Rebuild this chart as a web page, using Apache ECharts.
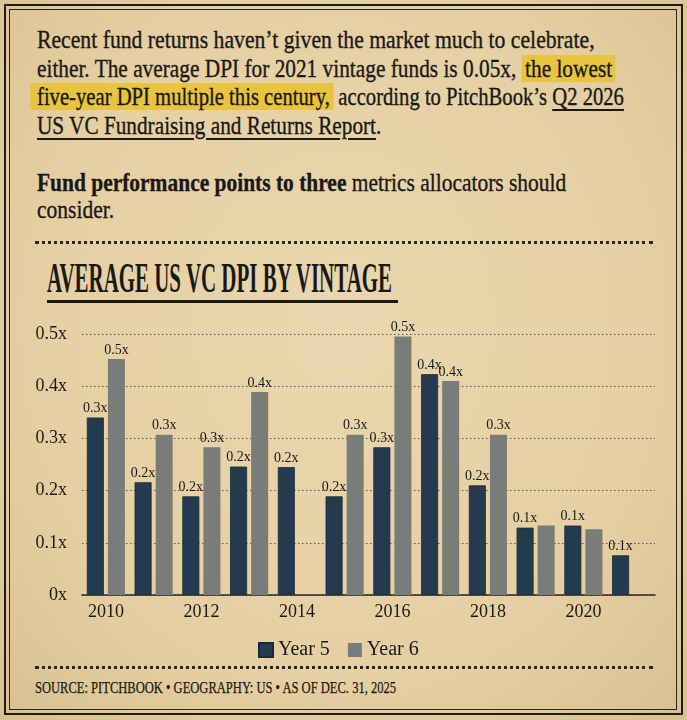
<!DOCTYPE html>
<html>
<head>
<meta charset="utf-8">
<title>Average US VC DPI by vintage</title>
<script src="https://cdn.jsdelivr.net/npm/echarts@6.0.0/dist/echarts.min.js"></script>
<style>
  html, body { margin: 0; padding: 0; }
  body { width: 687px; height: 720px; overflow: hidden; }
  #page {
    position: relative; width: 687px; height: 720px; overflow: hidden;
    background: radial-gradient(ellipse at 50% 45%, #ead7af 0%, #e5cfa2 65%, #d9c08f 100%);
    font-family: "Liberation Serif", "DejaVu Serif", serif;
    color: #1b1916;
  }
  .frame-outer { position: absolute; left: 4px; top: 4px; right: 4px; bottom: 5px; border: 2.5px solid #1e1c19; }
  .frame-inner { position: absolute; left: 9px; top: 9px; right: 10px; bottom: 10px; border: 1.5px solid #2a2723; }
  .sq { position: absolute; white-space: nowrap; transform-origin: 0 0; }
  .ln { left: 37px; height: 28.5px; font-size: 25px; line-height: 28.5px; -webkit-text-stroke: 0.35px #1b1916; }
  .hl { background: #e9c440; padding: 0 4px; }
  .hl.first { margin-left: -8px; padding-left: 8px; }
  .ul { text-decoration: underline; text-decoration-thickness: 1.5px; text-underline-offset: 4px; }
  .dots { position: absolute; left: 35px; width: 618px; height: 0; border-top: 3px dotted #2b2824; }
  #title { left: 47px; top: 256px; font-size: 43px; line-height: 43px; font-weight: bold; transform: scaleX(0.487); }
  #title-rule { position: absolute; left: 47px; top: 300px; width: 351px; height: 2.5px; background: #1b1916; }
  #source { left: 35px; top: 677px; font-size: 17px; line-height: 22px; transform: scaleX(0.738); -webkit-text-stroke: 0.25px #1b1916; }
  #main { position: absolute; left: 0; top: 0; width: 687px; height: 720px; }
</style>
</head>
<body>
<div id="page">
  <div class="frame-outer"></div>
  <div class="frame-inner"></div>

  <div class="sq ln" style="top: 26px; transform: scaleX(0.868);">Recent fund returns haven’t given the market much to celebrate,</div>
  <div class="sq ln" style="top: 54.5px; transform: scaleX(0.853);">either. The average DPI for 2021 vintage funds is 0.05x, <span class="hl">the lowest</span></div>
  <div class="sq ln" style="top: 83px; transform: scaleX(0.826);"><span class="hl first">five-year DPI multiple this century,</span> according to PitchBook’s <span class="ul">Q2 2026</span></div>
  <div class="sq ln" style="top: 111.5px; transform: scaleX(0.85);"><span class="ul">US VC Fundraising and Returns Report</span>.</div>
  <div class="sq ln" style="top: 168.5px; transform: scaleX(0.858);"><b>Fund performance points to three</b> metrics allocators should</div>
  <div class="sq ln" style="top: 196px; transform: scaleX(0.86);">consider.</div>

  <div class="dots" style="top: 241px;"></div>
  <div id="title" class="sq">AVERAGE US VC DPI BY VINTAGE</div>
  <div id="title-rule"></div>

  <div class="dots" style="top: 666px;"></div>
  <div id="source" class="sq">SOURCE: PITCHBOOK • GEOGRAPHY: US • AS OF DEC. 31, 2025</div>

  <div id="main"></div>
</div>

<script>
// vintage years on the x axis
var years = ['2010', '2011', '2012', '2013', '2014', '2015', '2016', '2017', '2018', '2019', '2020', '2021'];
// average DPI
var year5 = [0.340, 0.216, 0.189, 0.246, 0.245, 0.189, 0.283, 0.423, 0.210, 0.129, 0.133, 0.076];
var year6 = [0.452, 0.307, 0.283, 0.389, null, 0.307, 0.495, 0.410, 0.307, 0.133, 0.126, null];
// year 6 bars that carry no value label in the original
var year6NoLabel = ['2019', '2020'];
// y axis ticks
var yTicks = [0, 0.1, 0.2, 0.3, 0.4, 0.5];

var serif = '"Liberation Serif", "DejaVu Serif", serif';
var ink = '#1b1916';

var myChart = echarts.init(document.getElementById('main'));

var barLabel = {
    show: true,
    position: 'top',
    distance: 2,
    fontFamily: serif,
    fontSize: 14,
    color: ink,
    formatter: function (p) { return p.value.toFixed(1) + 'x'; }
};

var option = {
    backgroundColor: 'transparent',
    animation: false,
    legend: {
        left: 253,
        top: 635,
        itemWidth: 14,
        itemHeight: 14,
        itemGap: 18,
        icon: 'rect',
        textStyle: { fontFamily: serif, fontSize: 20, color: ink },
        data: ['Year 5', 'Year 6']
    },
    grid: {
        left: 82,
        right: 32,
        top: 334,
        bottom: 125
    },
    xAxis: {
        type: 'category',
        data: years,
        axisTick: { show: false },
        axisLine: { lineStyle: { color: '#2b2a26', width: 1.5 } },
        axisLabel: {
            interval: 1,
            margin: 8,
            fontFamily: serif,
            fontSize: 18,
            color: ink
        }
    },
    yAxis: {
        type: 'value',
        min: yTicks[0],
        max: yTicks[yTicks.length - 1],
        interval: yTicks[1] - yTicks[0],
        axisLine: { show: false },
        axisTick: { show: false },
        axisLabel: {
            margin: 15,
            fontFamily: serif,
            fontSize: 18,
            color: ink,
            formatter: function (v) { return v === 0 ? '0x' : v.toFixed(1) + 'x'; }
        },
        splitLine: { lineStyle: { color: '#5e594f', width: 1.2, type: [1.5, 2.5] } }
    },
    series: [
        {
            name: 'Year 5',
            type: 'bar',
            barWidth: 17,
            barGap: '24%',
            itemStyle: { color: '#243b4f', borderColor: '#1a2a38', borderWidth: 0.8 },
            label: barLabel,
            data: year5
        },
        {
            name: 'Year 6',
            type: 'bar',
            barWidth: 17,
            barGap: '24%',
            itemStyle: { color: '#7a7c79' },
            label: barLabel,
            data: year6.map(function (v, i) {
                if (year6NoLabel.indexOf(years[i]) >= 0) {
                    return { value: v, label: { show: false } };
                }
                return v;
            })
        }
    ]
};
myChart.setOption(option);
</script>
</body>
</html>
